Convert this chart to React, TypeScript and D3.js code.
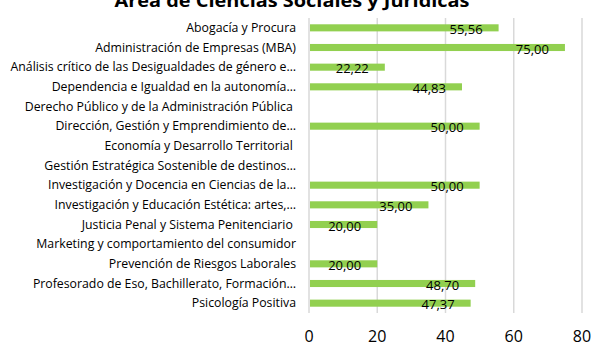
import React from "react";
import * as d3 from "d3";

const categories: string[] = [
  "Abogacía y Procura",
  "Administración de Empresas (MBA)",
  "Análisis crítico de las Desigualdades de género e…",
  "Dependencia e Igualdad en la autonomía…",
  "Derecho Público y de la Administración Pública ",
  "Dirección, Gestión y Emprendimiento de…",
  "Economía y Desarrollo Territorial ",
  "Gestión Estratégica Sostenible de destinos…",
  "Investigación y Docencia en Ciencias de la…",
  "Investigación y Educación Estética: artes,…",
  "Justicia Penal y Sistema Penitenciario ",
  "Marketing y comportamiento del consumidor",
  "Prevención de Riesgos Laborales",
  "Profesorado de Eso, Bachillerato, Formación…",
  "Psicología Positiva",
];

const values: (number | null)[] = [
  55.56, 75.0, 22.22, 44.83, null, 50.0, null, null, 50.0, 35.0, 20.0, null, 20.0, 48.7, 47.37,
];

const xTicks: number[] = [0, 20, 40, 60, 80];

const title = "Área de Ciencias Sociales y Jurídicas";

const W = 593;
const H = 346;
const plot = { left: 309, right: 582, top: 18, bottom: 313 };
const font = "'Open Sans', 'Noto Sans', sans-serif";

export default function App() {
  const x = d3.scaleLinear().domain([0, 80]).range([plot.left, plot.right]);
  const y = d3
    .scaleBand<string>()
    .domain(categories.map((c, i) => `${i}`))
    .range([plot.top, plot.bottom])
    .paddingInner(0.64)
    .paddingOuter(0.32);
  const fmt = (v: number) => v.toFixed(2).replace(".", ",");

  return (
    <svg
      width={W}
      height={H}
      style={{ position: "absolute", left: 0, top: 0, background: "#fff" }}
      fontFamily={font}
    >
      <text
        x={292}
        y={7}
        textAnchor="middle"
        fontSize={17}
        fontWeight="bold"
        fill="#000"
        textLength={355}
        lengthAdjust="spacingAndGlyphs"
      >
        {title}
      </text>

      {xTicks.map((t) => (
        <line
          key={`g${t}`}
          x1={x(t)}
          x2={x(t)}
          y1={plot.top}
          y2={plot.bottom}
          stroke="#d9d9d9"
          strokeWidth={1.5}
        />
      ))}

      {categories.map((c, i) => {
        const yc = (y(`${i}`) ?? 0) + y.bandwidth() / 2;
        return (
          <text
            key={`c${i}`}
            x={296}
            y={yc + 4}
            textAnchor="end"
            fontSize={12.3}
            fill="#000"
          >
            {c.replace(/ $/, "\u00a0")}
          </text>
        );
      })}

      {values.map((v, i) => {
        if (v == null) return null;
        const y0 = y(`${i}`) ?? 0;
        return (
          <rect
            key={`b${i}`}
            x={x(0) + 1}
            y={y0}
            width={x(v) - x(0) - 1}
            height={y.bandwidth()}
            fill="#92d050"
          />
        );
      })}

      {values.map((v, i) => {
        if (v == null) return null;
        const yc = (y(`${i}`) ?? 0) + y.bandwidth() / 2;
        return (
          <text
            key={`v${i}`}
            x={x(v) - 16}
            y={yc + 6}
            textAnchor="end"
            fontSize={13}
            fill="#000"
          >
            {fmt(v)}
          </text>
        );
      })}

      {xTicks.map((t) => (
        <text
          key={`t${t}`}
          x={x(t)}
          y={342}
          textAnchor="middle"
          fontSize={16}
          fill="#000"
        >
          {t}
        </text>
      ))}
    </svg>
  );
}
